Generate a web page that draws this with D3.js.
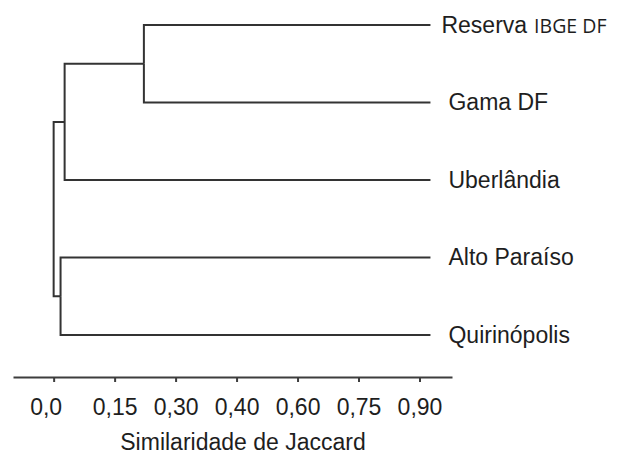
<!DOCTYPE html>
<html lang="pt">
  <head>
    <meta charset="utf-8">
    <title>Similaridade de Jaccard</title>
    <script type="text/javascript" src="https://cdn.jsdelivr.net/npm/d3@7"></script>
    <style type="text/css">
      body { margin: 0; background: #fff; }
      text { font-family: "Liberation Sans", Arial, sans-serif; fill: #1e1e1e; }
      .axis text { font-size: 23px; }
      .axis path, .axis line { stroke: #3d3d3d; stroke-width: 2; }
      .link { fill: none; stroke: #333; stroke-width: 2; }
    </style>
  </head>
  <body>
    <script type="text/javascript">

    const w = 619;
    const h = 455;

    // folhas do dendrograma
    const leafNames = ["Reserva", "Gama DF", "Uberlândia", "Alto Paraíso", "Quirinópolis"];
    const leafSuffix = ["IBGE DF", "", "", "", ""];

    // nós (id, pai, similaridade)
    const nodeIds = ["raiz", "g1", "g2", "g3"].concat(leafNames);
    const nodeParents = ["", "raiz", "g1", "raiz", "g2", "g2", "g1", "g3", "g3"];
    const nodeSimilarity = [0.0, 0.027, 0.222, 0.017, 0.927, 0.927, 0.927, 0.927, 0.927];

    const tickValues = [0, 0.15, 0.30, 0.45, 0.60, 0.75, 0.90];
    const tickLabels = ["0,0", "0,15", "0,30", "0,40", "0,60", "0,75", "0,90"];

    const rows = nodeIds.map((id, i) => ({id: id, parent: nodeParents[i], sim: nodeSimilarity[i]}));
    const root = d3.stratify()
                   .id(d => d.id)
                   .parentId(d => d.parent || null)(rows);

    // cluster deixa meio passo de folga em cada ponta
    const rowStep = 77.5;
    d3.cluster()
      .size([rowStep * leafNames.length, 1])
      .separation(() => 1)(root);

    const topY = 25 - rowStep / 2;
    const xScale = d3.scaleLinear()
                     .domain([-0.1, 0.98])
                     .range([13, 452]);

    const svg = d3.select("body")
                  .append("svg")
                  .attr("width", w)
                  .attr("height", h);

    svg.selectAll("path.link")
       .data(root.links())
       .enter()
       .append("path")
       .attr("class", "link")
       .attr("d", l => "M" + xScale(l.source.data.sim) + "," + (topY + l.source.x) +
                       "V" + (topY + l.target.x) +
                       "H" + xScale(l.target.data.sim));

    const labels = svg.selectAll("text.leaf")
       .data(root.leaves())
       .enter()
       .append("text")
       .attr("class", "leaf")
       .attr("x", d => xScale(d.data.sim) + 18)
       .attr("dx", d => leafSuffix[leafNames.indexOf(d.id)] ? -7 : 0)
       .attr("y", d => topY + d.x)
       .attr("dy", "0.33em")
       .style("font-size", "23px")
       .text(d => d.id);

    labels.filter(d => leafSuffix[leafNames.indexOf(d.id)])
       .append("tspan")
       .attr("dx", 7)
       .style("font-family", "'Open Sans', sans-serif")
       .style("font-size", "19.5px")
       .text(d => leafSuffix[leafNames.indexOf(d.id)]);

    const xAxis = d3.axisBottom(xScale)
                    .tickValues(tickValues)
                    .tickFormat((d, i) => tickLabels[i])
                    .tickSize(5)
                    .tickSizeOuter(0)
                    .tickPadding(17);

    svg.append("g")
       .attr("class", "axis")
       .attr("transform", "translate(0,377)")
       .call(xAxis)
       .call(g => g.selectAll("text").attr("fill", "#1e1e1e"))
       .call(g => g.selectAll(".tick text").filter((d, i) => i === 0).attr("dx", -8));

    svg.append("text")
       .attr("x", 243)
       .attr("y", 450)
       .attr("text-anchor", "middle")
       .style("font-size", "23px")
       .text("Similaridade de Jaccard");

    </script>
  </body>
</html>
